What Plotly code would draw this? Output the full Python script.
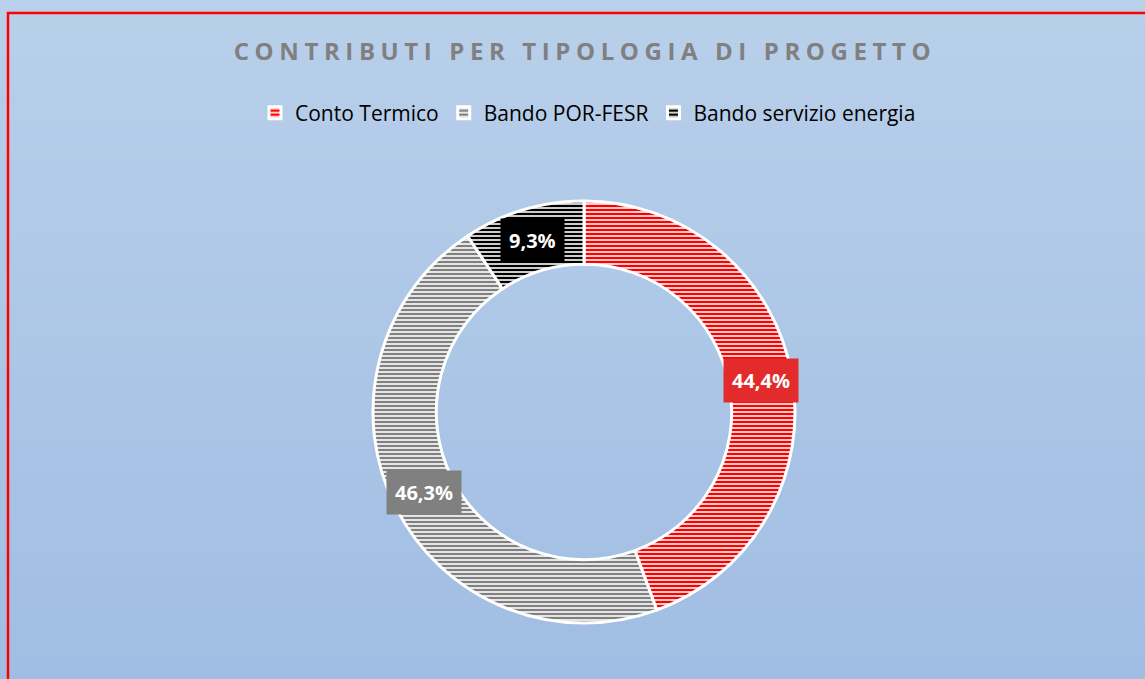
import math
import plotly.graph_objects as go

# ---- data ----
categories = ["Conto Termico", "Bando POR-FESR", "Bando servizio energia"]
values = [44.4, 46.3, 9.3]
title_text = "CONTRIBUTI PER TIPOLOGIA DI PROGETTO"

# ---- style ----
W, H = 1145, 679
slice_colors = ["#FF0000", "#808080", "#000000"]
label_bg = ["#E32B2B", "#808080", "#000000"]

# pie placement (paper fractions)
cx_px, cy_px, R_px = 584, 412, 211
hole = 0.70
dom_x = [(cx_px - R_px) / W, (cx_px + R_px) / W]
dom_y = [1 - (cy_px + R_px) / H, 1 - (cy_px - R_px) / H]

fig = go.Figure()

fig.add_trace(go.Pie(
    labels=categories,
    values=values,
    sort=False,
    direction="clockwise",
    rotation=0,
    hole=hole,
    textinfo="none",
    hoverinfo="skip",
    domain=dict(x=dom_x, y=dom_y),
    marker=dict(
        colors=slice_colors,
        line=dict(color="white", width=3),
        pattern=dict(
            shape=["-", "-", "-"],
            fgcolor=slice_colors,
            bgcolor=["white", "white", "white"],
            fgopacity=1,
            size=4,
            solidity=0.6,
            fillmode="replace",
        ),
    ),
))

# background gradient bands
top = (0xB9, 0xD0, 0xEA)
bot = (0xA0, 0xBD, 0xE3)
n = 60
shapes = []
for i in range(n):
    t = i / (n - 1)
    c = tuple(round(top[k] + (bot[k] - top[k]) * t) for k in range(3))
    shapes.append(dict(
        type="rect", xref="paper", yref="paper", layer="below",
        x0=0, x1=1, y0=1 - (i + 1) / n, y1=1 - i / n + 0.001,
        line=dict(width=0), fillcolor="rgb(%d,%d,%d)" % c,
    ))
# red frame
shapes.append(dict(
    type="rect", xref="paper", yref="paper", layer="above",
    x0=8 / W, x1=1.02, y0=-0.02, y1=1 - 13 / H,
    line=dict(color="#FF0000", width=2.5), fillcolor="rgba(0,0,0,0)",
))

# data labels from values (at ring midline, mid-angle of each slice)
total = sum(values)
r_mid = R_px * (1 + hole) / 2
annotations = []
cum = 0.0
for i, v in enumerate(values):
    mid = (cum + v / 2) / total * 2 * math.pi
    cum += v
    x_px = cx_px + r_mid * math.sin(mid)
    y_px = cy_px - r_mid * math.cos(mid)
    pct = v / total * 100
    txt = f"{pct:.1f}".replace(".", ",") + "%"
    annotations.append(dict(
        x=x_px / W, y=1 - y_px / H, xref="paper", yref="paper",
        text="<b>" + txt + "</b>", showarrow=False,
        font=dict(family="Open Sans, DejaVu Sans, sans-serif", size=20, color="white"),
        bgcolor=label_bg[i], borderpad=8,
        xanchor="center", yanchor="middle",
    ))

fig.update_layout(
    width=W, height=H,
    margin=dict(l=0, r=0, t=0, b=0),
    paper_bgcolor="#ADC7E7",
    plot_bgcolor="rgba(0,0,0,0)",
    shapes=shapes,
    annotations=annotations,
    title=dict(
        text="<b>" + title_text + "</b>",
        x=585 / W, xanchor="center",
        y=1 - 52 / H, yanchor="middle",
        font=dict(family="Open Sans, DejaVu Sans, sans-serif", size=24, color="#808080"),
    ),
    showlegend=True,
    legend=dict(
        orientation="h",
        x=588 / W, xanchor="center",
        y=1 - 113 / H, yanchor="middle",
        font=dict(family="Open Sans, DejaVu Sans, sans-serif", size=21, color="black"),
        bgcolor="rgba(0,0,0,0)",
        traceorder="normal",
    ),
)

post = """
document.body.style.margin='0';
document.body.style.overflow='hidden';
function spaceTitle(){
  var t = document.querySelectorAll('.gtitle');
  t.forEach(function(el){ el.style.letterSpacing='5.6px'; });
}
spaceTitle();
setTimeout(spaceTitle, 0);
setTimeout(spaceTitle, 200);
var gd = document.getElementById('{plot_id}');
if (gd && gd.on) { gd.on('plotly_afterplot', spaceTitle); }
"""

fig.write_html("out.html", config={"displayModeBar": False}, post_script=post)
